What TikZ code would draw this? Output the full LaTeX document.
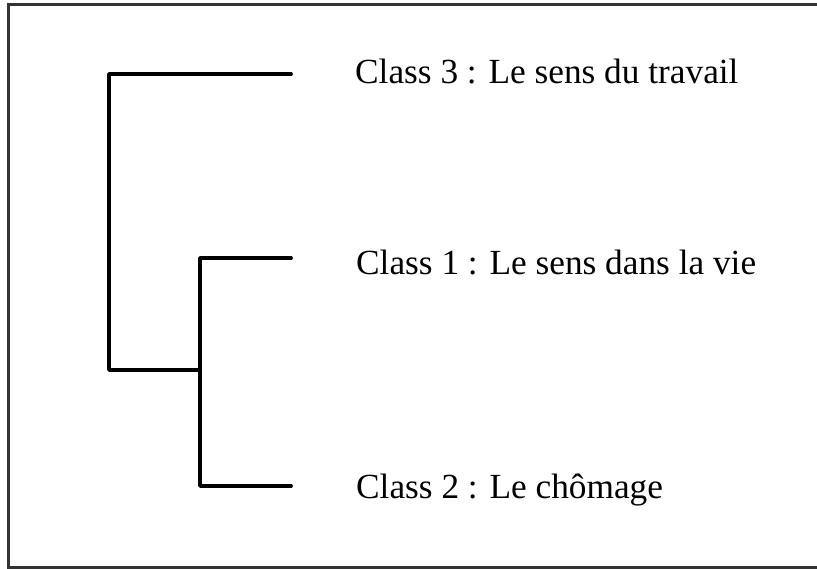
\documentclass[tikz,border=0pt]{standalone}
\usepackage{fontspec}
\setmainfont{Liberation Serif}
\begin{document}
\begin{tikzpicture}[x=1pt,y=-1pt,
  frame/.style={draw=black!80, line width=3pt},
  dendro/.style={draw=black, line width=3.8pt, line cap=round, line join=round},
  label/.style={anchor=base west, inner sep=0pt, font=\fontsize{35.3}{40}\selectfont}]
\useasboundingbox (0,0) rectangle (817,569);
% frame (open at right edge)
\draw[frame] (817,4.5) -- (8.5,4.5) -- (8.5,567.5) -- (817,567.5);
% labels
\node[label] (c3) at (355,84) {Class 3 : Le sens du travail};
\node[label] (c1) at (356,275) {Class 1 : Le sens dans la vie};
\node[label] (c2) at (356,498) {Class 2 : Le chômage};
% dendrogram coordinates
\coordinate (l3) at (291,74);
\coordinate (l1) at (291,258);
\coordinate (l2) at (291,486);
\coordinate (r) at (109,370);
\coordinate (j) at (200,370);
\coordinate (jt) at (200,258);
\coordinate (jb) at (200,486);
\draw[dendro] (l3) -| (r) -- (j);
\draw[dendro] (l1) -- (jt) -- (jb) -- (l2);
\end{tikzpicture}
\end{document}
